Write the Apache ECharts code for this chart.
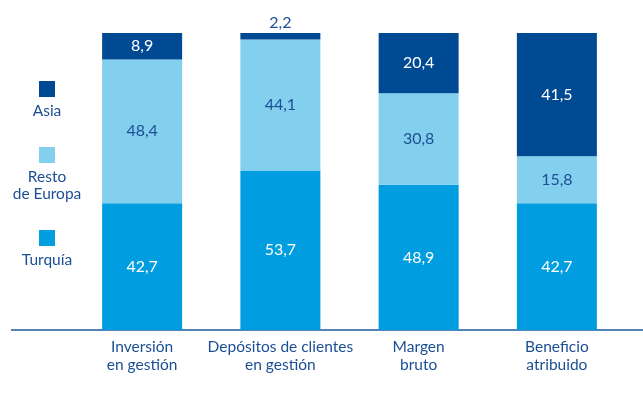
<!DOCTYPE html>
<html>
<head>
<meta charset="utf-8">
<script src="https://cdn.jsdelivr.net/npm/echarts@6/dist/echarts.min.js"></script>
<style>
  html, body { margin: 0; padding: 0; background: #fff; }
  #chart { width: 643px; height: 411px; }
</style>
</head>
<body>
<div id="chart"></div>
<script>
// Distribución por área geográfica (%)
const categories = ['Inversión\nen gestión', 'Depósitos de clientes\nen gestión', 'Margen\nbruto', 'Beneficio\natribuido'];
const turquia = [42.7, 53.7, 48.9, 42.7];
const restoEuropa = [48.4, 44.1, 30.8, 15.8];
const asia = [8.9, 2.2, 20.4, 41.5];
const seriesNames = ['Turquía', 'Resto\nde Europa', 'Asia'];
const seriesColors = ['#009ee0', '#82cfee', '#004a94'];
const labelColors = ['#ffffff', '#1b4f94', '#ffffff'];

const textBlue = '#1b4f94';
const fontFamily = 'Lato, "Open Sans", sans-serif';

const fmt = v => String(v).replace('.', ',');

function makeSeries(name, data, idx) {
  return {
    name: name,
    type: 'bar',
    stack: 'total',
    barWidth: 80,
    data: data.map(v => {
      // A very thin segment gets its label above the bar
      const small = v < 5;
      return {
        value: v,
        label: small ? { position: 'top', color: textBlue, distance: 2 } : {}
      };
    }),
    itemStyle: { color: seriesColors[idx] },
    label: {
      show: true,
      position: 'inside',
      formatter: p => fmt(p.value),
      color: labelColors[idx],
      fontSize: 16,
      fontFamily: fontFamily
    },
    emphasis: { disabled: true }
  };
}

// Legend: square swatch stacked above its text, top to bottom Asia, Resto, Turquía
const legendItems = [
  { idx: 2, y: 81 },
  { idx: 1, y: 147 },
  { idx: 0, y: 230 }
];
const graphics = [];
legendItems.forEach(it => {
  graphics.push({
    type: 'rect', left: 39, top: it.y,
    shape: { width: 16, height: 16 },
    style: { fill: seriesColors[it.idx] }
  });
  graphics.push({
    type: 'text', x: 47, y: it.y + 21,
    style: {
      text: seriesNames[it.idx],
      fill: textBlue,
      font: '15.5px ' + fontFamily,
      textAlign: 'center',
      textVerticalAlign: 'top',
      lineHeight: 17
    }
  });
});
// Baseline running across the full width
graphics.push({
  type: 'line',
  shape: { x1: 11, y1: 330, x2: 643, y2: 330 },
  style: { stroke: '#1b5aa0', lineWidth: 1.5 }
});

const chart = echarts.init(document.getElementById('chart'));
chart.setOption({
  animation: false,
  grid: { left: 73, right: 17, top: 33, bottom: 81, containLabel: false },
  xAxis: {
    type: 'category',
    data: categories,
    axisLine: { show: false },
    axisTick: { show: false },
    axisLabel: {
      color: textBlue,
      fontSize: 15.5,
      fontFamily: fontFamily,
      lineHeight: 18,
      margin: 8,
      interval: 0
    }
  },
  yAxis: {
    type: 'value',
    min: 0,
    max: 100,
    show: false,
    splitLine: { show: false }
  },
  series: [
    makeSeries(seriesNames[0], turquia, 0),
    makeSeries(seriesNames[1], restoEuropa, 1),
    makeSeries(seriesNames[2], asia, 2)
  ],
  graphic: graphics
});
</script>
</body>
</html>
